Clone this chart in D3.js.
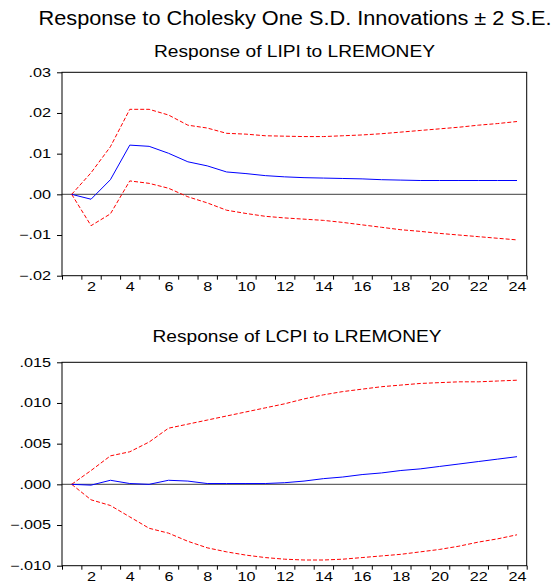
<!DOCTYPE html>
<html>
<head>
<meta charset="utf-8">
<script src="https://cdn.jsdelivr.net/npm/d3@7"></script>
<style>
  body { margin: 0; background: #fff; }
  text { font-family: "Liberation Sans", Arial, sans-serif; fill: #000; }
</style>
</head>
<body>
<div id="chart"></div>
<script>
'use strict';

// periods 1..24
var periods = [1, 2, 3, 4, 5, 6, 7, 8, 9, 10, 11, 12, 13, 14, 15, 16, 17, 18, 19, 20, 21, 22, 23, 24];
var xLabels = [2, 4, 6, 8, 10, 12, 14, 16, 18, 20, 22, 24];

// Response of LIPI to LREMONEY
var lipiResp  = [0, -0.0012, 0.0036, 0.0121, 0.0118, 0.0101, 0.0080, 0.0070, 0.0055, 0.0051, 0.0046, 0.0043, 0.0041, 0.0040, 0.0039, 0.0038, 0.0036, 0.0035, 0.0034, 0.0034, 0.0034, 0.0034, 0.0034, 0.0034];
var lipiUpper = [0, 0.0053, 0.0117, 0.0209, 0.0209, 0.0195, 0.0170, 0.0163, 0.0150, 0.0148, 0.0144, 0.0143, 0.0142, 0.0142, 0.0144, 0.0146, 0.0149, 0.0153, 0.0157, 0.0161, 0.0165, 0.0170, 0.0174, 0.0179];
var lipiLower = [0, -0.0077, -0.0048, 0.0033, 0.0027, 0.0015, -0.0006, -0.0021, -0.0039, -0.0047, -0.0054, -0.0058, -0.0061, -0.0064, -0.0069, -0.0075, -0.0081, -0.0087, -0.0091, -0.0096, -0.0100, -0.0104, -0.0108, -0.0112];
var lipiTicks = [-0.02, -0.01, 0, 0.01, 0.02, 0.03];

// Response of LCPI to LREMONEY
var lcpiResp  = [0, -0.0001, 0.0005, 0.0001, 0.0000, 0.0005, 0.0004, 0.0001, 0.0001, 0.0001, 0.0001, 0.0002, 0.0004, 0.0007, 0.0009, 0.0012, 0.0014, 0.0017, 0.0019, 0.0022, 0.0025, 0.0028, 0.0031, 0.0034];
var lcpiUpper = [0, 0.0017, 0.0035, 0.0040, 0.0052, 0.0069, 0.0074, 0.0079, 0.0084, 0.0089, 0.0094, 0.0099, 0.0105, 0.0110, 0.0114, 0.0117, 0.0120, 0.0122, 0.0124, 0.0125, 0.0126, 0.0126, 0.0127, 0.0128];
var lcpiLower = [0, -0.0019, -0.0026, -0.0040, -0.0054, -0.0060, -0.0070, -0.0078, -0.0083, -0.0087, -0.0090, -0.0092, -0.0093, -0.0093, -0.0092, -0.0090, -0.0088, -0.0086, -0.0083, -0.0080, -0.0076, -0.0071, -0.0067, -0.0062];
var lcpiTicks = [-0.010, -0.005, 0, 0.005, 0.010, 0.015];

var irf = {};
irf.w = 553;
irf.h = 584;
irf.left = 62;
irf.right = 526.7;
irf.stretch = 1.35;   // eviews fonts come out wide

irf.xScale = d3.scaleLinear().domain([0.5, 24.5]).range([irf.left, irf.right]);

irf.appendSvg = function (div)
{
    return d3.select(div).append('svg')
        .attr('width', irf.w)
        .attr('height', irf.h);
}

irf.widen = function (sel, k)
{
    sel.each(function () {
        var len = this.getComputedTextLength();
        d3.select(this).attr('textLength', len * k).attr('lengthAdjust', 'spacingAndGlyphs');
    });
}

irf.appendTitle = function (svg, txt, x, y, size, len)
{
    svg.append('text')
        .attr('x', x)
        .attr('y', y)
        .attr('text-anchor', 'middle')
        .attr('font-size', size)
        .attr('textLength', len)
        .attr('lengthAdjust', 'spacingAndGlyphs')
        .text(txt);
}

irf.panel = function (svg, cfg)
{
    var y = d3.scaleLinear().domain(cfg.domain).range([cfg.bottom, cfg.top]);
    var fmt = d3.format(cfg.fmt);
    var g = svg.append('g');

    // y axis
    var yAxisGroup = g.append('g')
        .attr('transform', 'translate(' + irf.left + ',0)')
        .call(d3.axisLeft(y).tickValues(cfg.ticks).tickSize(5).tickPadding(6)
            .tickFormat(function (d) { return fmt(d).replace('0.', '.'); }));
    yAxisGroup.select('.domain').remove();
    yAxisGroup.selectAll('text').attr('font-size', 12).attr('font-family', null);
    irf.widen(yAxisGroup.selectAll('text'), irf.stretch);

    // x ticks at period boundaries
    var bounds = periods.map(function (p) { return p - 0.5; }).concat([24.5]);
    var xTickGroup = g.append('g')
        .attr('transform', 'translate(0,' + cfg.bottom + ')')
        .call(d3.axisBottom(irf.xScale).tickValues(bounds).tickSize(4).tickFormat(''));
    xTickGroup.select('.domain').remove();

    var xLabGroup = g.append('g')
        .attr('transform', 'translate(0,' + cfg.bottom + ')')
        .call(d3.axisBottom(irf.xScale).tickValues(xLabels).tickSize(0).tickPadding(7));
    xLabGroup.select('.domain').remove();
    xLabGroup.selectAll('text').attr('font-size', 12).attr('font-family', null);
    irf.widen(xLabGroup.selectAll('text'), irf.stretch);

    // zero line
    g.append('line')
        .attr('x1', irf.left).attr('x2', irf.right)
        .attr('y1', y(0)).attr('y2', y(0))
        .attr('stroke', '#666')
        .attr('stroke-width', 1.2);

    var line = d3.line()
        .x(function (d, i) { return irf.xScale(periods[i]); })
        .y(function (d) { return y(d); });

    g.append('path').datum(cfg.upper)
        .attr('d', line).attr('fill', 'none')
        .attr('stroke', '#ff0000').attr('stroke-width', 1)
        .attr('stroke-dasharray', '4,2');
    g.append('path').datum(cfg.lower)
        .attr('d', line).attr('fill', 'none')
        .attr('stroke', '#ff0000').attr('stroke-width', 1)
        .attr('stroke-dasharray', '4,2');
    g.append('path').datum(cfg.resp)
        .attr('d', line).attr('fill', 'none')
        .attr('stroke', '#0000ff').attr('stroke-width', 1);

    // frame
    g.append('rect')
        .attr('x', irf.left)
        .attr('y', cfg.top)
        .attr('width', irf.right - irf.left)
        .attr('height', cfg.bottom - cfg.top)
        .attr('fill', 'none')
        .attr('stroke', '#000')
        .attr('stroke-width', 1);
}

var svg = irf.appendSvg('#chart');

irf.appendTitle(svg, 'Response to Cholesky One S.D. Innovations \u00b1 2 S.E.', 295, 25, 20, 513);
irf.appendTitle(svg, 'Response of LIPI to LREMONEY', 294.5, 57, 16, 281);
irf.appendTitle(svg, 'Response of LCPI to LREMONEY', 297, 342, 16, 289);

irf.panel(svg, {
    top: 72.3, bottom: 275.7, domain: [-0.02, 0.03], ticks: lipiTicks, fmt: '.2f',
    resp: lipiResp, upper: lipiUpper, lower: lipiLower
});
irf.panel(svg, {
    top: 362.3, bottom: 565.7, domain: [-0.010, 0.015], ticks: lcpiTicks, fmt: '.3f',
    resp: lcpiResp, upper: lcpiUpper, lower: lcpiLower
});
</script>
</body>
</html>
